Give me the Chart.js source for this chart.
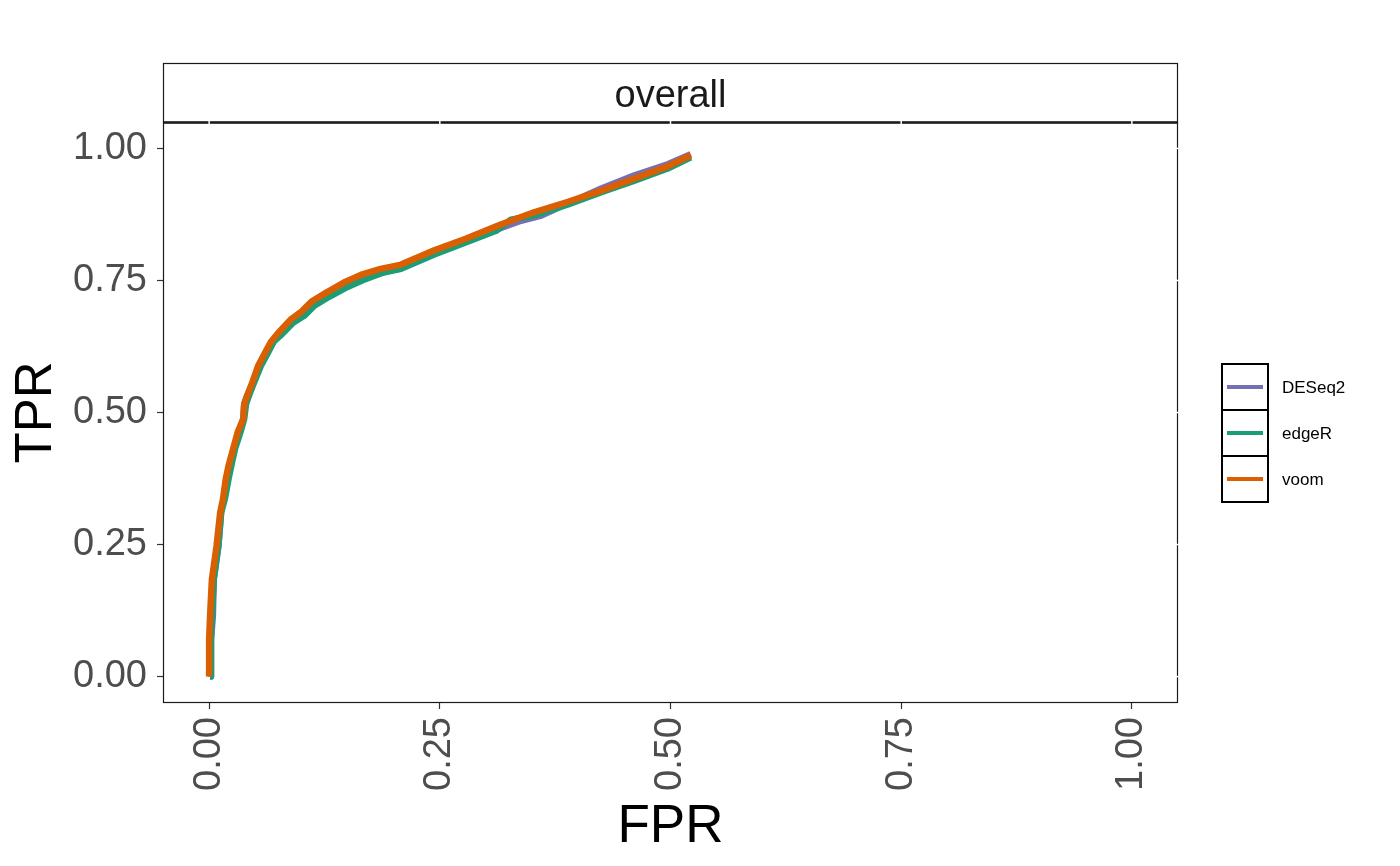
<!DOCTYPE html>
<html>
<head>
<meta charset="utf-8">
<script src="https://cdn.jsdelivr.net/npm/chart.js@4"></script>
<style>
  html, body { margin: 0; padding: 0; background: #fff; }
  #wrap { width: 1400px; height: 866px; }
</style>
</head>
<body>
<div id="wrap"><canvas id="roc" width="1400" height="866"></canvas></div>
<script>
// ROC curves, one per method
const methods = ['DESeq2', 'edgeR', 'voom'];
const colors = ['#7570B3', '#1B9E77', '#D95F02'];
const panelTitle = 'overall';

const fprDESeq2 = [0.001,0.002,0.004,0.005,0.010,0.013,0.016,0.020,0.023,0.027,0.033,0.037,0.038,0.041,0.048,0.055,0.062,0.069,0.078,0.091,0.102,0.113,0.129,0.148,0.167,0.189,0.208,0.244,0.278,0.311,0.338,0.360,0.389,0.425,0.461,0.497,0.522];
const tprDESeq2 = [0,0.070,0.114,0.184,0.247,0.311,0.336,0.374,0.399,0.431,0.463,0.488,0.516,0.531,0.558,0.588,0.611,0.634,0.649,0.674,0.687,0.706,0.723,0.740,0.757,0.769,0.776,0.803,0.824,0.846,0.863,0.873,0.896,0.924,0.949,0.970,0.989];

const fprEdgeR = [0.001,0.002,0.003,0.005,0.010,0.013,0.017,0.021,0.024,0.028,0.034,0.038,0.040,0.043,0.049,0.056,0.063,0.070,0.078,0.091,0.103,0.114,0.130,0.148,0.167,0.189,0.208,0.244,0.278,0.311,0.327,0.352,0.389,0.425,0.461,0.497,0.522];
const tprEdgeR = [0,0.070,0.114,0.184,0.247,0.311,0.336,0.374,0.399,0.431,0.463,0.488,0.516,0.531,0.558,0.588,0.611,0.634,0.647,0.670,0.683,0.702,0.719,0.736,0.751,0.765,0.772,0.799,0.822,0.844,0.865,0.873,0.894,0.917,0.939,0.962,0.983];

const fprVoom = [0,0,0.001,0.003,0.008,0.012,0.015,0.018,0.021,0.026,0.031,0.037,0.038,0.041,0.047,0.053,0.060,0.067,0.075,0.089,0.100,0.111,0.127,0.146,0.165,0.186,0.208,0.244,0.278,0.316,0.352,0.389,0.425,0.461,0.497,0.522];
const tprVoom = [0,0.070,0.114,0.184,0.247,0.311,0.336,0.374,0.399,0.431,0.463,0.488,0.516,0.531,0.558,0.588,0.611,0.634,0.651,0.677,0.691,0.710,0.727,0.746,0.761,0.772,0.780,0.807,0.829,0.856,0.879,0.899,0.920,0.943,0.966,0.987];

const tickValues = [0, 0.25, 0.5, 0.75, 1];

const FONT = '"Liberation Sans", Arial, Helvetica, sans-serif';

function pts(xs, ys) {
  return xs.map((x, i) => ({x: x, y: ys[i]}));
}

const curves = [[fprDESeq2, tprDESeq2], [fprEdgeR, tprEdgeR], [fprVoom, tprVoom]];

// voom drawn last (on top), like the original
const datasets = methods.map((m, i) => ({
  label: m,
  data: pts(curves[i][0], curves[i][1]),
  borderColor: colors[i],
  backgroundColor: colors[i],
  borderWidth: 6.5,
  borderJoinStyle: 'round',
  borderCapStyle: 'butt',
  pointRadius: 0,
  showLine: true,
  tension: 0,
  order: methods.length - i
}));

// panel border, facet strip, white top/right ticks, legend
const ggPanel = {
  id: 'ggPanel',
  afterDatasetsDraw(chart) {
    const {ctx, chartArea: a, scales} = chart;
    const stripH = 59;
    ctx.save();
    // strip
    ctx.fillStyle = '#fff';
    ctx.fillRect(a.left, a.top - stripH, a.right - a.left, stripH);
    ctx.strokeStyle = '#1a1a1a';
    ctx.lineWidth = 1.2;
    ctx.strokeRect(a.left + 0.5, a.top - stripH + 0.5, a.right - a.left - 1, stripH);
    ctx.fillStyle = '#1a1a1a';
    ctx.font = '38px ' + FONT;
    ctx.textAlign = 'center';
    ctx.textBaseline = 'middle';
    ctx.fillText(panelTitle, (a.left + a.right) / 2, a.top - stripH / 2 + 4);
    // panel border
    ctx.lineWidth = 1.2;
    ctx.strokeRect(a.left + 0.5, a.top + 0.5, a.right - a.left - 1, a.bottom - a.top - 1);
    ctx.lineWidth = 2.4;
    ctx.beginPath();
    ctx.moveTo(a.left, a.top + 0.5);
    ctx.lineTo(a.right, a.top + 0.5);
    ctx.stroke();
    // faint white ticks on the top and right edges
    ctx.strokeStyle = '#fff';
    ctx.lineWidth = 1.5;
    tickValues.forEach(v => {
      const x = scales.x.getPixelForValue(v);
      ctx.beginPath(); ctx.moveTo(x, a.top - 1); ctx.lineTo(x, a.top + 3); ctx.stroke();
      const y = scales.y.getPixelForValue(v);
      ctx.beginPath(); ctx.moveTo(a.right - 3, y); ctx.lineTo(a.right + 1, y); ctx.stroke();
    });
    // legend
    const key = 46, lx = 1222;
    const ly = 433 - key * methods.length / 2;
    methods.forEach((m, i) => {
      const y0 = ly + i * key;
      ctx.strokeStyle = colors[i];
      ctx.lineWidth = 4;
      ctx.beginPath();
      ctx.moveTo(lx + 5, y0 + key / 2);
      ctx.lineTo(lx + key - 5, y0 + key / 2);
      ctx.stroke();
      ctx.strokeStyle = '#000';
      ctx.lineWidth = 2;
      ctx.strokeRect(lx, y0, key, key);
      ctx.fillStyle = '#000';
      ctx.font = '17px ' + FONT;
      ctx.textAlign = 'left';
      ctx.fillText(m, lx + key + 14, y0 + key / 2 + 1);
    });
    ctx.restore();
  }
};

new Chart(document.getElementById('roc'), {
  type: 'scatter',
  data: {datasets: datasets},
  plugins: [ggPanel],
  options: {
    responsive: false,
    animation: false,
    layout: {padding: {top: 122, right: 222, bottom: 0, left: 0}},
    plugins: {legend: {display: false}, tooltip: {enabled: false}},
    scales: {
      x: {
        type: 'linear', min: -0.05, max: 1.05,
        afterBuildTicks: s => { s.ticks = tickValues.map(v => ({value: v})); },
        afterFit: s => { s.height = 163; },
        grid: {drawOnChartArea: false, drawTicks: true, tickLength: 6, tickColor: '#333', tickWidth: 1.2},
        border: {display: false},
        ticks: {
          minRotation: 90, maxRotation: 90, padding: 8,
          color: '#4d4d4d', font: {family: FONT, size: 38},
          callback: v => v.toFixed(2)
        },
        title: {display: true, text: 'FPR', color: '#000', font: {family: FONT, size: 53, lineHeight: 1.45}, padding: 0}
      },
      y: {
        type: 'linear', min: -0.05, max: 1.05,
        afterBuildTicks: s => { s.ticks = tickValues.map(v => ({value: v})); },
        afterFit: s => { s.width = 163; },
        grid: {drawOnChartArea: false, drawTicks: true, tickLength: 6, tickColor: '#333', tickWidth: 1.2},
        border: {display: false},
        ticks: {
          padding: 10,
          color: '#4d4d4d', font: {family: FONT, size: 38},
          callback: v => v.toFixed(2)
        },
        title: {display: true, text: 'TPR', color: '#000', font: {family: FONT, size: 51, lineHeight: 1.45}, padding: 0}
      }
    }
  }
});
</script>
</body>
</html>
